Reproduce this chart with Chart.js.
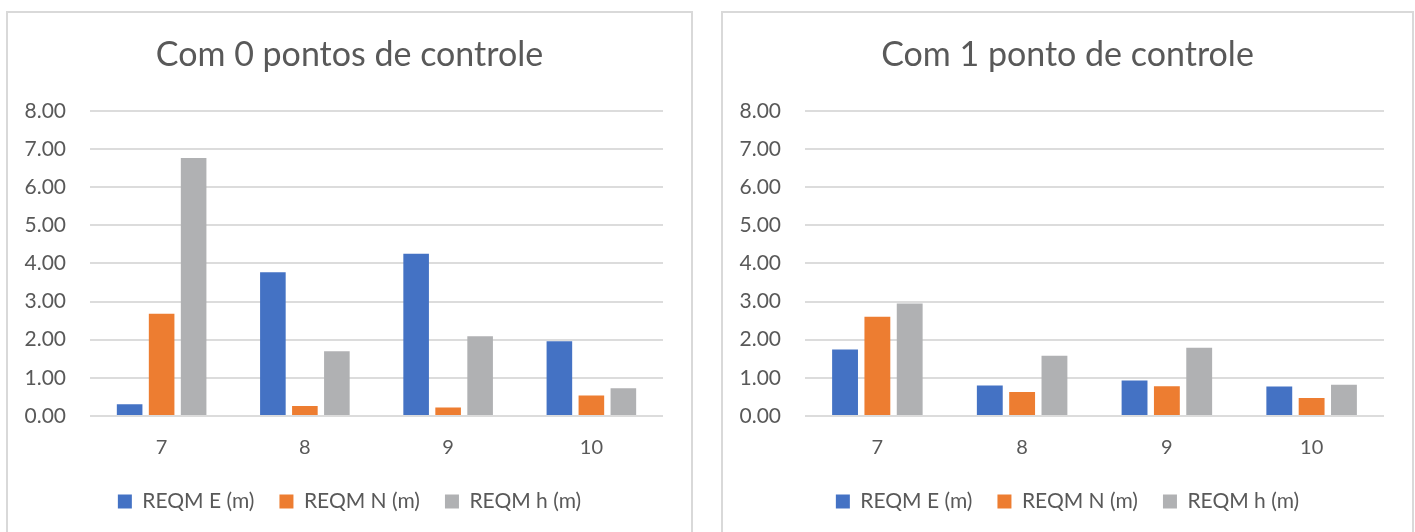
<!DOCTYPE html>
<html>
<head>
<meta charset="utf-8">
<script src="https://cdn.jsdelivr.net/npm/chart.js@4/dist/chart.umd.min.js"></script>
<style>
  html, body { margin: 0; padding: 0; background: #ffffff; }
  body { width: 1415px; height: 532px; position: relative; overflow: hidden; }
  .panel {
    position: absolute;
    top: 11px;
    border: 2px solid #d9d9d9;
    border-bottom: none;
    background: #ffffff;
  }
  #panelA { left: 6px; width: 683px; height: 519px; }
  #panelB { left: 721px; width: 689px; height: 519px; }
  .panel canvas { display: block; }
</style>
</head>
<body>
<div class="panel" id="panelA"><canvas id="chartA" width="683" height="519"></canvas></div>
<div class="panel" id="panelB"><canvas id="chartB" width="689" height="519"></canvas></div>
<script>
// Number of control points used: 0 (left) and 1 (right)
const categories = ['7', '8', '9', '10'];
const seriesNames = ['REQM E (m)', 'REQM N (m)', 'REQM h (m)'];

// RMSE values, 0 control points
const reqmE0 = [0.31, 3.77, 4.25, 1.96];
const reqmN0 = [2.68, 0.26, 0.22, 0.54];
const reqmH0 = [6.76, 1.70, 2.09, 0.73];

// RMSE values, 1 control point
const reqmE1 = [1.74, 0.80, 0.93, 0.77];
const reqmN1 = [2.60, 0.63, 0.78, 0.47];
const reqmH1 = [2.95, 1.58, 1.79, 0.82];

const yTicks = [0, 1, 2, 3, 4, 5, 6, 7, 8];

const colors = ['#4472c4', '#ed7d31', '#b0b1b3'];
const textColor = '#595959';
const fontFamily = 'Lato, "Noto Sans", sans-serif';

function buildChart(canvasId, titleText, eVals, nVals, hVals) {
  const values = [eVals, nVals, hVals];
  return new Chart(document.getElementById(canvasId), {
    type: 'bar',
    data: {
      labels: categories,
      datasets: seriesNames.map((name, i) => ({
        label: name,
        data: values[i],
        backgroundColor: colors[i],
        borderWidth: 0,
        yAxisID: 'y',
        categoryPercentage: 0.67,
        barPercentage: 0.8
      }))
    },
    options: {
      responsive: false,
      animation: false,
      events: [],
      layout: { padding: { left: 0, right: 0, top: 0, bottom: 10 } },
      plugins: {
        title: {
          display: true,
          text: titleText,
          color: textColor,
          font: { family: fontFamily, size: 34, weight: 'normal' },
          padding: { top: 22, bottom: 35 }
        },
        legend: {
          position: 'bottom',
          labels: {
            color: textColor,
            font: { family: fontFamily, size: 21 },
            boxWidth: 14,
            boxHeight: 14,
            padding: 25
          }
        },
        tooltip: { enabled: false }
      },
      scales: {
        x: {
          grid: { display: false, drawTicks: false },
          border: { display: false },
          afterFit: (s) => { s.height = 50; },
          ticks: {
            color: textColor,
            font: { family: fontFamily, size: 20 },
            padding: 20
          }
        },
        y: {
          min: 0,
          max: 8,
          afterBuildTicks: (s) => { s.ticks = yTicks.map(v => ({ value: v })); },
          afterFit: (s) => { s.width = 82; },
          grid: { color: '#dcdcdc', lineWidth: 2, drawTicks: false },
          border: { display: false },
          ticks: {
            color: textColor,
            font: { family: fontFamily, size: 21 },
            padding: 24,
            callback: (v) => Number(v).toFixed(2)
          }
        },
        yRight: {
          position: 'right',
          display: true,
          grid: { display: false, drawTicks: false },
          border: { display: false },
          ticks: { display: false },
          afterFit: (s) => { s.width = 28; }
        }
      }
    }
  });
}

buildChart('chartA', 'Com 0 pontos de controle', reqmE0, reqmN0, reqmH0);
buildChart('chartB', 'Com 1 ponto de controle', reqmE1, reqmN1, reqmH1);
</script>
</body>
</html>
